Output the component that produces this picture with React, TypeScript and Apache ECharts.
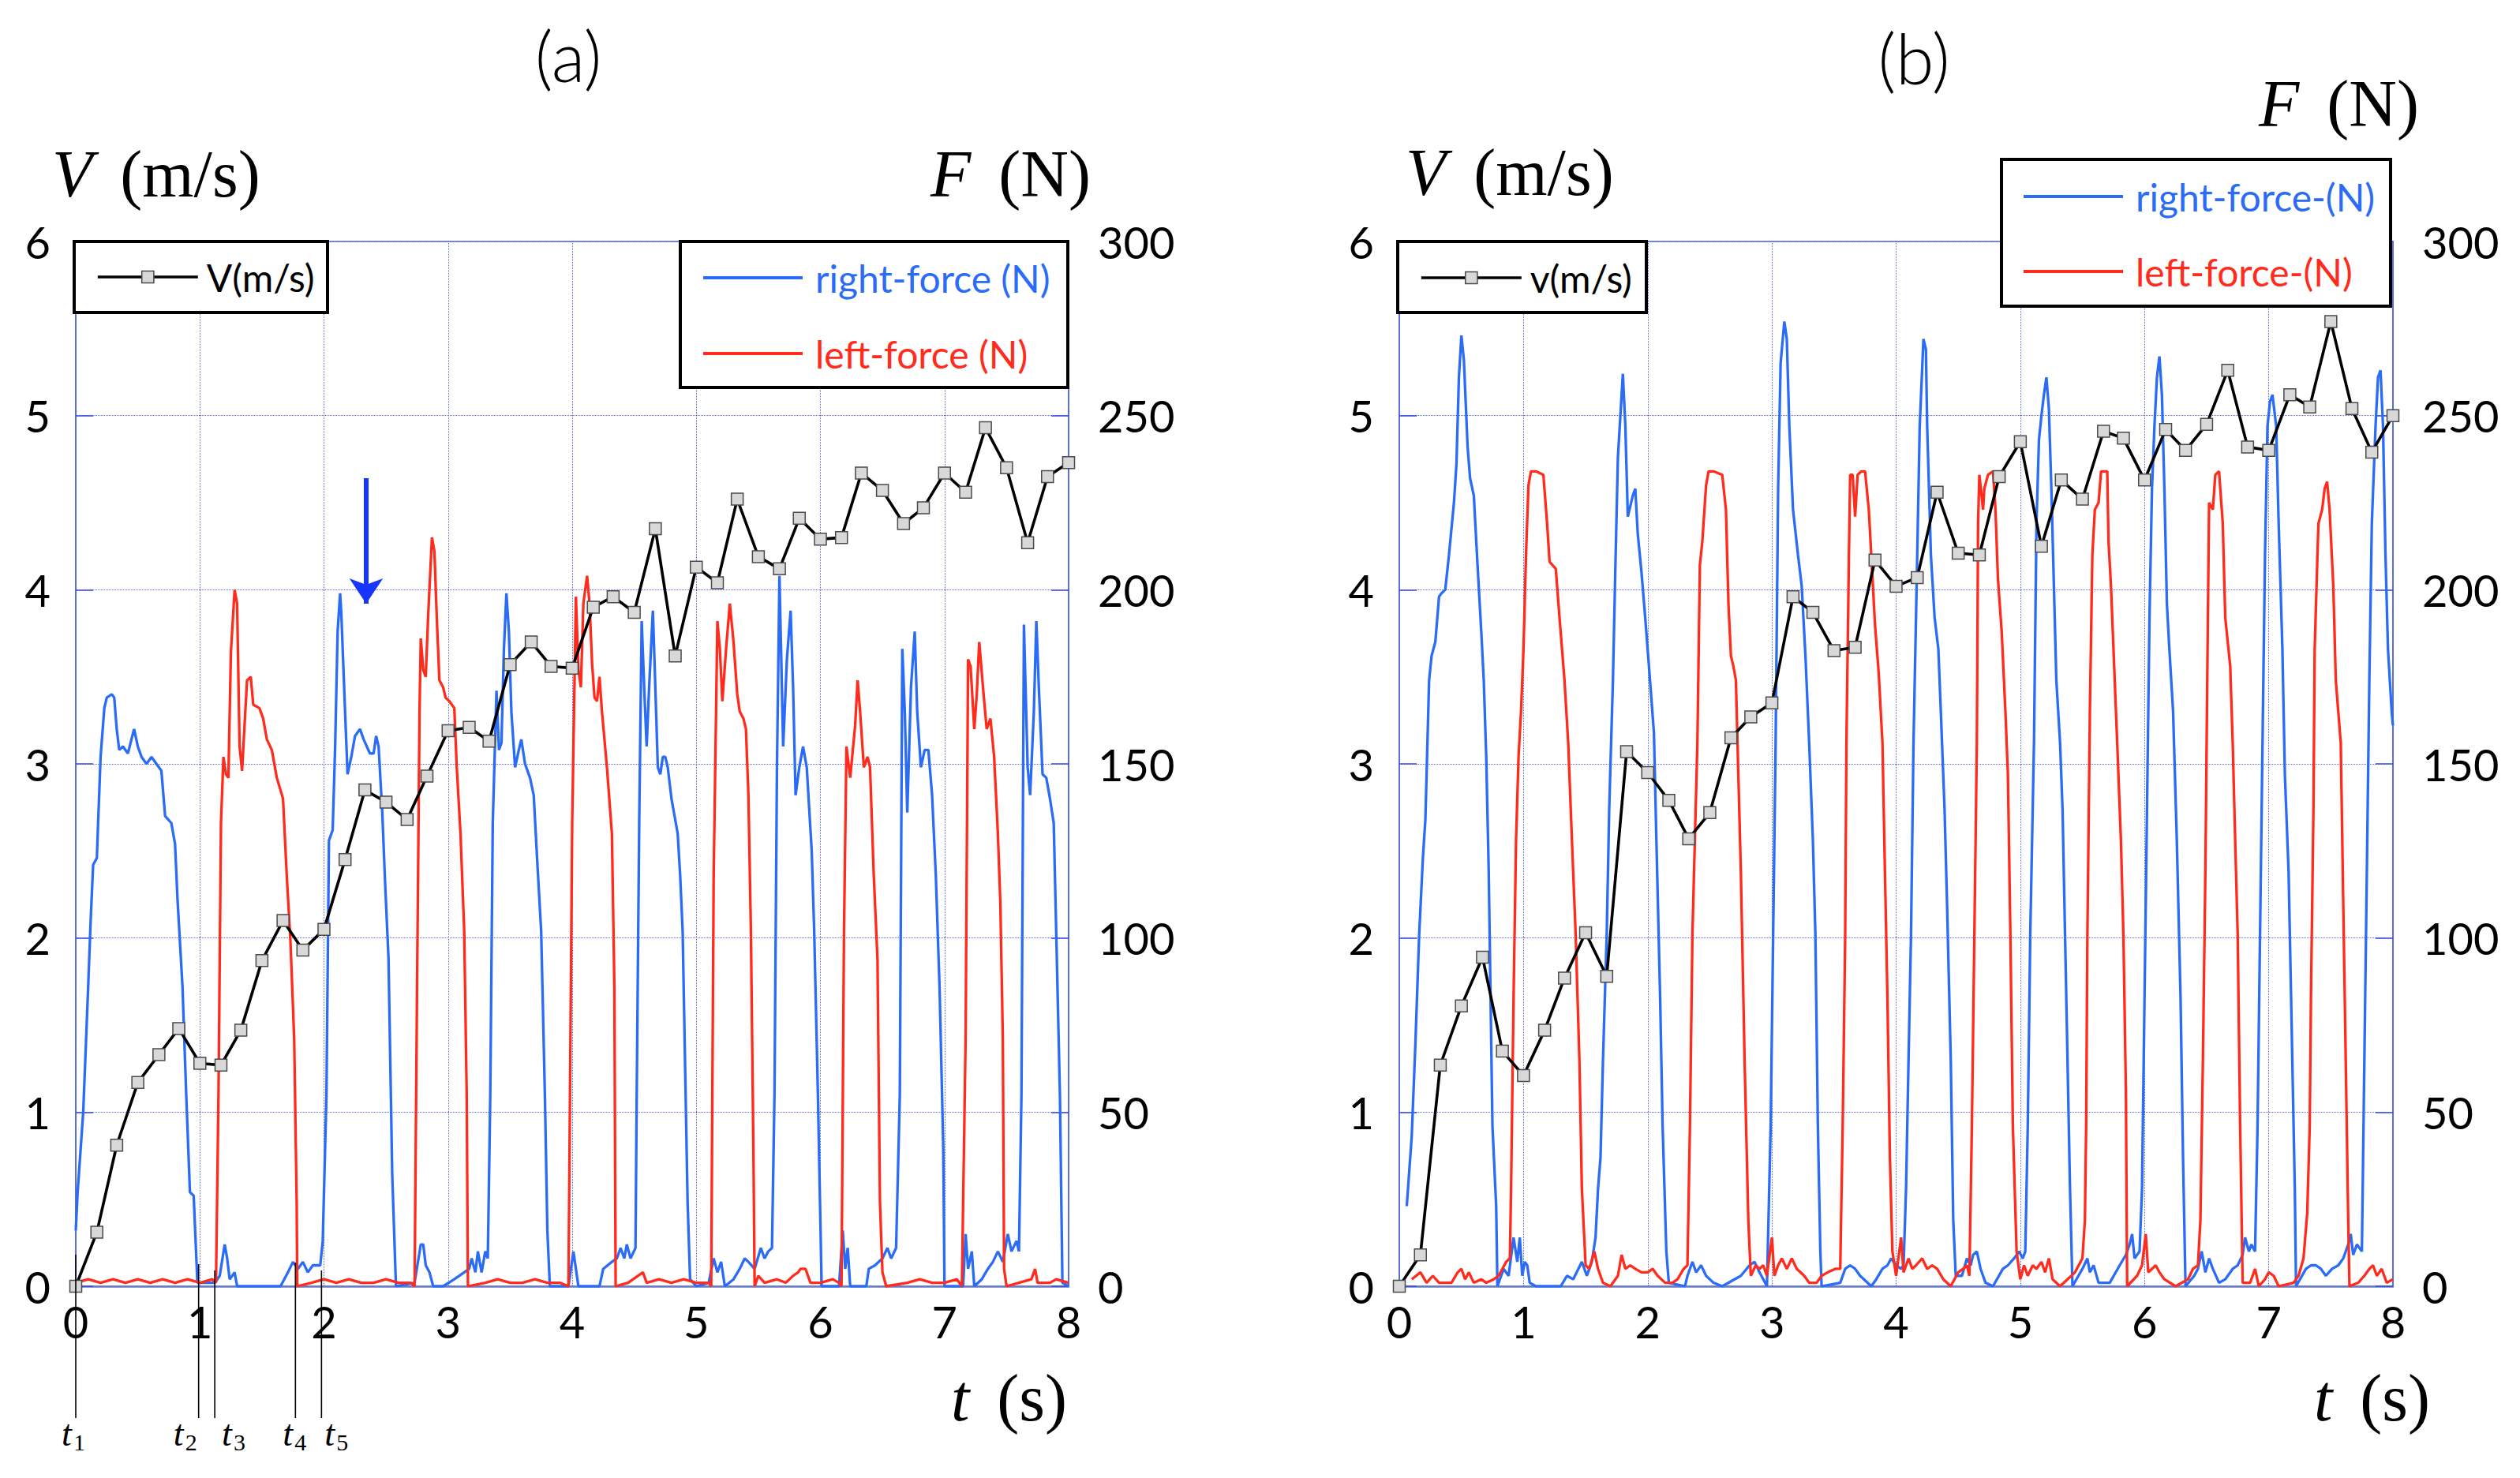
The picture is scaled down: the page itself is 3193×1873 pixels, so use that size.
import React, { useEffect, useRef } from "react";
import * as echarts from "echarts";

// ---------- data ----------
const vTimes = [0, 0.17, 0.33, 0.5, 0.67, 0.83, 1, 1.17, 1.33, 1.5, 1.67, 1.83, 2, 2.17, 2.33, 2.5, 2.67, 2.83, 3, 3.17, 3.33, 3.5, 3.67, 3.83, 4, 4.17, 4.33, 4.5, 4.67, 4.83, 5, 5.17, 5.33, 5.5, 5.67, 5.83, 6, 6.17, 6.33, 6.5, 6.67, 6.83, 7, 7.17, 7.33, 7.5, 7.67, 7.83, 8];

const velocityA = [0, 0.31, 0.81, 1.17, 1.33, 1.48, 1.28, 1.27, 1.47, 1.87, 2.1, 1.93, 2.05, 2.45, 2.85, 2.78, 2.68, 2.93, 3.19, 3.21, 3.13, 3.57, 3.7, 3.56, 3.55, 3.9, 3.96, 3.87, 4.35, 3.62, 4.13, 4.04, 4.52, 4.19, 4.12, 4.41, 4.29, 4.3, 4.67, 4.57, 4.38, 4.47, 4.67, 4.56, 4.93, 4.7, 4.27, 4.65, 4.73];

const velocityB = [0, 0.18, 1.27, 1.61, 1.89, 1.35, 1.21, 1.47, 1.77, 2.03, 1.78, 3.07, 2.95, 2.79, 2.57, 2.72, 3.15, 3.27, 3.35, 3.96, 3.87, 3.65, 3.67, 4.17, 4.02, 4.07, 4.56, 4.21, 4.2, 4.65, 4.85, 4.25, 4.63, 4.52, 4.91, 4.87, 4.63, 4.92, 4.8, 4.95, 5.26, 4.82, 4.8, 5.12, 5.05, 5.54, 5.04, 4.79, 5.0];

const rightForceA: [number, number][] = [[0,16],[0.015,27],[0.06,50],[0.1,86],[0.12,105],[0.14,121],[0.17,123],[0.18,133],[0.2,152],[0.23,166],[0.25,169],[0.29,170],[0.31,169],[0.33,160],[0.35,154],[0.38,155],[0.42,153],[0.47,160],[0.5,155],[0.53,152],[0.57,150],[0.61,152],[0.65,150],[0.69,148],[0.72,135],[0.77,133],[0.8,127],[0.82,111],[0.86,86],[0.89,55],[0.92,27],[0.95,26],[0.98,1],[1.05,1],[1.12,1],[1.16,3],[1.2,12],[1.22,8],[1.24,2],[1.28,4],[1.3,0],[1.65,0],[1.71,4],[1.75,7],[1.79,5],[1.83,7],[1.87,4],[1.91,6],[1.97,6],[1.99,13],[2.02,55],[2.04,128],[2.07,131],[2.09,155],[2.11,188],[2.13,199],[2.14,193],[2.17,165],[2.19,147],[2.22,152],[2.25,158],[2.29,160],[2.32,157],[2.37,153],[2.4,153],[2.42,158],[2.44,155],[2.47,136],[2.49,118],[2.52,94],[2.55,32],[2.58,0],[2.73,1],[2.78,12],[2.8,12],[2.82,6],[2.85,4],[2.88,0],[2.96,0],[3.05,2],[3.13,4],[3.17,5],[3.19,8],[3.22,4],[3.24,10],[3.27,4],[3.3,10],[3.32,8],[3.34,55],[3.36,133],[3.39,171],[3.41,154],[3.43,156],[3.45,183],[3.47,199],[3.49,188],[3.51,165],[3.54,149],[3.57,154],[3.59,157],[3.62,150],[3.66,146],[3.69,141],[3.72,121],[3.75,102],[3.78,55],[3.8,16],[3.82,0],[3.97,0],[4.01,10],[4.03,5],[4.05,0],[4.22,0],[4.25,5],[4.32,7],[4.36,8],[4.39,11],[4.42,8],[4.44,12],[4.47,8],[4.51,11],[4.52,55],[4.54,133],[4.56,191],[4.58,172],[4.6,155],[4.62,172],[4.65,194],[4.67,172],[4.69,149],[4.71,147],[4.73,152],[4.75,152],[4.77,149],[4.8,140],[4.85,130],[4.87,118],[4.89,102],[4.91,63],[4.93,24],[4.95,2],[5.0,0],[5.1,1],[5.14,8],[5.17,4],[5.2,7],[5.23,0],[5.3,2],[5.35,5],[5.39,8],[5.42,7],[5.47,5],[5.52,11],[5.55,8],[5.58,10],[5.61,11],[5.63,55],[5.65,149],[5.67,204],[5.7,155],[5.73,180],[5.76,194],[5.78,172],[5.8,141],[5.83,149],[5.86,155],[5.89,149],[5.93,125],[5.95,102],[5.98,55],[6.01,0],[6.15,0],[6.18,16],[6.2,5],[6.22,11],[6.24,0],[6.37,0],[6.39,5],[6.44,6],[6.5,8],[6.54,11],[6.57,8],[6.61,11],[6.64,55],[6.66,183],[6.68,165],[6.7,136],[6.73,172],[6.76,188],[6.78,165],[6.81,149],[6.84,154],[6.87,154],[6.9,141],[6.93,118],[6.96,86],[6.99,40],[7.0,0],[7.15,0],[7.17,15],[7.19,5],[7.22,10],[7.24,0],[7.3,2],[7.35,5],[7.39,7],[7.43,10],[7.47,7],[7.51,15],[7.54,10],[7.58,13],[7.6,10],[7.62,55],[7.64,190],[7.67,149],[7.69,141],[7.72,165],[7.74,191],[7.76,172],[7.79,147],[7.82,146],[7.85,140],[7.88,133],[7.9,102],[7.93,55],[7.95,1],[8.0,0]];

const leftForceA: [number, number][] = [[0,1],[0.1,2],[0.2,1],[0.3,2],[0.4,1],[0.5,2],[0.6,1],[0.7,2],[0.8,1],[0.9,2],[1.0,1],[1.1,2],[1.13,1],[1.15,55],[1.17,133],[1.19,152],[1.21,147],[1.23,146],[1.25,182],[1.28,200],[1.3,196],[1.32,155],[1.34,148],[1.36,161],[1.38,174],[1.41,175],[1.43,167],[1.48,166],[1.51,163],[1.54,157],[1.58,154],[1.62,146],[1.67,140],[1.7,118],[1.73,99],[1.76,71],[1.78,24],[1.785,0],[1.9,1],[2.0,2],[2.1,1],[2.2,2],[2.3,1],[2.4,1],[2.5,2],[2.6,1],[2.7,1],[2.73,0],[2.75,86],[2.77,165],[2.78,186],[2.8,177],[2.82,175],[2.84,193],[2.87,215],[2.89,211],[2.91,191],[2.93,174],[2.96,172],[2.98,169],[3.01,168],[3.05,166],[3.07,149],[3.1,130],[3.13,102],[3.15,55],[3.16,0],[3.3,1],[3.4,2],[3.5,1],[3.6,1],[3.7,2],[3.8,1],[3.9,1],[3.97,0],[4.0,133],[4.03,198],[4.05,177],[4.07,172],[4.09,196],[4.12,204],[4.14,196],[4.16,179],[4.18,169],[4.2,168],[4.22,175],[4.24,165],[4.28,149],[4.32,130],[4.34,86],[4.35,0],[4.45,1],[4.57,4],[4.6,1],[4.7,2],[4.8,1],[4.9,2],[5.0,1],[5.1,1],[5.12,0],[5.14,118],[5.17,191],[5.19,183],[5.21,168],[5.24,183],[5.27,196],[5.3,185],[5.33,170],[5.35,165],[5.38,163],[5.4,160],[5.42,141],[5.44,102],[5.46,40],[5.47,0],[5.5,3],[5.55,1],[5.65,2],[5.72,1],[5.78,3],[5.82,4],[5.84,5],[5.88,5],[5.92,1],[6.0,1],[6.1,2],[6.15,1],[6.17,0],[6.19,102],[6.21,155],[6.24,146],[6.28,161],[6.3,174],[6.32,165],[6.35,149],[6.38,152],[6.4,149],[6.43,118],[6.46,94],[6.48,24],[6.5,4],[6.53,0],[6.7,1],[6.8,2],[6.9,1],[7.0,1],[7.1,2],[7.14,0],[7.17,71],[7.19,180],[7.21,178],[7.24,160],[7.26,170],[7.28,185],[7.31,172],[7.34,160],[7.37,163],[7.4,152],[7.43,130],[7.45,110],[7.47,71],[7.48,5],[7.5,0],[7.6,1],[7.7,2],[7.73,5],[7.75,1],[7.85,1],[7.9,2],[8.0,1]];

const rightForceB: [number, number][] = [[0.06,23],[0.1,43],[0.13,70],[0.16,101],[0.19,123],[0.21,134],[0.24,174],[0.26,181],[0.29,185],[0.32,198],[0.34,199],[0.37,200],[0.4,210],[0.44,225],[0.46,236],[0.48,261],[0.5,273],[0.52,266],[0.55,241],[0.57,232],[0.6,227],[0.63,207],[0.66,188],[0.68,174],[0.7,152],[0.72,119],[0.75,46],[0.78,23],[0.79,0],[0.84,5],[0.88,3],[0.92,14],[0.95,7],[0.97,14],[0.99,3],[1.01,7],[1.03,6],[1.05,1],[1.1,0],[1.3,0],[1.35,3],[1.4,2],[1.47,7],[1.51,3],[1.55,7],[1.58,14],[1.6,28],[1.62,37],[1.64,65],[1.67,101],[1.69,137],[1.72,174],[1.74,207],[1.76,238],[1.79,256],[1.8,262],[1.82,247],[1.84,221],[1.88,227],[1.9,229],[1.92,216],[1.95,205],[1.98,192],[2.01,178],[2.05,159],[2.07,128],[2.1,83],[2.12,46],[2.15,10],[2.17,1],[2.3,0],[2.32,3],[2.36,7],[2.39,4],[2.43,6],[2.47,3],[2.53,1],[2.6,0],[2.75,3],[2.82,6],[2.86,7],[2.9,4],[2.96,0],[2.99,46],[3.01,101],[3.03,156],[3.05,229],[3.07,265],[3.1,277],[3.12,272],[3.14,247],[3.17,223],[3.21,210],[3.24,201],[3.27,181],[3.3,156],[3.33,128],[3.35,101],[3.37,46],[3.39,10],[3.4,0],[3.55,1],[3.59,5],[3.63,6],[3.67,5],[3.71,3],[3.8,0],[3.84,2],[3.89,5],[3.93,6],[3.96,8],[4.0,6],[4.04,5],[4.06,6],[4.08,28],[4.1,65],[4.12,101],[4.14,156],[4.17,210],[4.19,247],[4.22,272],[4.24,269],[4.25,247],[4.28,210],[4.31,192],[4.34,183],[4.36,165],[4.39,137],[4.41,110],[4.44,65],[4.46,19],[4.48,3],[4.53,3],[4.57,8],[4.6,6],[4.62,9],[4.65,10],[4.68,5],[4.72,1],[4.78,0],[4.86,5],[4.9,6],[4.95,8],[4.99,10],[5.02,8],[5.04,10],[5.06,46],[5.08,101],[5.11,156],[5.13,219],[5.15,243],[5.17,250],[5.19,256],[5.21,261],[5.23,252],[5.25,229],[5.29,174],[5.32,156],[5.34,137],[5.36,101],[5.38,65],[5.4,28],[5.42,0],[5.5,5],[5.54,8],[5.56,4],[5.59,6],[5.63,1],[5.72,1],[5.8,6],[5.85,9],[5.88,12],[5.9,15],[5.92,8],[5.96,10],[5.98,28],[6.0,83],[6.02,137],[6.04,192],[6.06,229],[6.08,247],[6.1,261],[6.12,267],[6.14,256],[6.16,229],[6.18,196],[6.2,183],[6.23,165],[6.26,128],[6.29,83],[6.31,37],[6.33,0],[6.4,3],[6.43,5],[6.46,10],[6.49,4],[6.52,8],[6.55,5],[6.6,1],[6.65,2],[6.71,5],[6.75,6],[6.79,9],[6.81,14],[6.84,10],[6.86,12],[6.89,10],[6.91,46],[6.93,101],[6.95,156],[6.97,210],[6.99,247],[7.01,254],[7.03,256],[7.06,247],[7.08,219],[7.11,183],[7.13,147],[7.16,119],[7.18,83],[7.21,28],[7.22,0],[7.3,5],[7.34,6],[7.38,6],[7.42,5],[7.46,3],[7.51,5],[7.56,6],[7.6,8],[7.64,12],[7.66,15],[7.68,9],[7.71,12],[7.75,10],[7.77,65],[7.79,119],[7.81,174],[7.83,219],[7.86,247],[7.88,261],[7.9,263],[7.92,247],[7.94,210],[7.96,183],[7.99,165],[8.0,161]];

const leftForceB: [number, number][] = [[0.1,2],[0.17,4],[0.22,1],[0.27,3],[0.32,1],[0.42,1],[0.47,4],[0.5,5],[0.53,2],[0.56,4],[0.6,1],[0.66,2],[0.7,1],[0.76,2],[0.8,3],[0.83,5],[0.86,7],[0.89,8],[0.9,28],[0.92,83],[0.94,128],[0.96,152],[0.98,165],[1.0,183],[1.02,210],[1.04,230],[1.06,234],[1.1,234],[1.16,233],[1.19,219],[1.21,208],[1.26,206],[1.29,192],[1.33,174],[1.36,156],[1.39,128],[1.42,101],[1.45,65],[1.47,28],[1.5,6],[1.53,5],[1.57,10],[1.6,5],[1.64,1],[1.7,0],[1.76,3],[1.79,9],[1.82,5],[1.86,6],[1.9,5],[1.95,4],[2.0,4],[2.04,5],[2.08,3],[2.14,1],[2.2,1],[2.24,2],[2.29,5],[2.32,6],[2.34,46],[2.36,101],[2.4,156],[2.42,207],[2.44,214],[2.47,230],[2.49,234],[2.53,234],[2.6,233],[2.63,223],[2.65,196],[2.67,181],[2.69,178],[2.71,174],[2.75,119],[2.78,65],[2.81,19],[2.83,3],[2.87,6],[2.9,5],[2.93,6],[2.96,3],[3.0,14],[3.02,3],[3.05,6],[3.08,8],[3.12,5],[3.16,8],[3.2,5],[3.26,3],[3.3,1],[3.36,1],[3.4,3],[3.45,4],[3.51,5],[3.55,5],[3.57,46],[3.59,101],[3.6,156],[3.62,210],[3.63,233],[3.65,233],[3.67,221],[3.69,233],[3.72,234],[3.75,234],[3.78,223],[3.8,210],[3.83,190],[3.86,176],[3.89,156],[3.91,119],[3.93,83],[3.95,37],[3.97,10],[4.0,3],[4.04,14],[4.06,4],[4.1,8],[4.13,5],[4.16,6],[4.21,8],[4.25,5],[4.29,6],[4.33,5],[4.38,2],[4.44,0],[4.5,4],[4.54,5],[4.57,6],[4.59,3],[4.61,46],[4.63,101],[4.65,156],[4.66,219],[4.67,233],[4.7,223],[4.71,229],[4.74,233],[4.78,234],[4.8,223],[4.82,203],[4.85,188],[4.88,165],[4.9,147],[4.92,101],[4.94,46],[4.97,10],[5.0,2],[5.03,6],[5.06,3],[5.1,6],[5.13,5],[5.17,7],[5.2,4],[5.23,8],[5.26,2],[5.32,0],[5.38,2],[5.44,4],[5.47,6],[5.5,8],[5.52,19],[5.53,46],[5.54,101],[5.56,165],[5.58,210],[5.6,223],[5.63,225],[5.65,234],[5.7,234],[5.71,214],[5.73,201],[5.75,183],[5.78,156],[5.81,128],[5.83,101],[5.85,56],[5.86,0],[5.94,3],[5.98,6],[6.01,15],[6.03,4],[6.06,5],[6.09,6],[6.12,4],[6.16,2],[6.25,0],[6.35,2],[6.39,5],[6.43,6],[6.45,19],[6.47,65],[6.49,119],[6.51,192],[6.52,225],[6.55,223],[6.57,233],[6.6,234],[6.63,219],[6.65,192],[6.69,178],[6.71,156],[6.73,128],[6.75,101],[6.77,46],[6.79,1],[6.85,1],[6.89,5],[6.92,0],[6.97,2],[7.0,4],[7.04,3],[7.08,0],[7.2,1],[7.24,3],[7.28,8],[7.31,21],[7.33,46],[7.34,83],[7.36,137],[7.37,183],[7.4,219],[7.43,223],[7.45,229],[7.47,231],[7.49,223],[7.52,201],[7.54,174],[7.58,156],[7.6,110],[7.62,65],[7.64,19],[7.65,0],[7.72,1],[7.77,3],[7.81,5],[7.84,6],[7.87,3],[7.91,5],[7.95,1],[8.0,2]];

// time markers t1..t5 under panel (a)
const tMarks = [0, 0.99, 1.12, 1.77, 1.98];
const tMarkNames = ["1", "2", "3", "4", "5"];
// blue arrow in panel (a): time, start force, end force
const arrowA = { t: 2.34, from: 232, to: 196 };

// ---------- styles ----------
const BLUE = "#2b6cf6";
const RED = "#ff2b1c";
const ARROW = "#1636ff";
const GRIDC = "#5565e0";
const SANS = "Lato, 'Open Sans', sans-serif";
const SERIF = "'Liberation Serif', 'DejaVu Serif', serif";

const gridsPx = [
  { left: 96, top: 306, width: 1258, height: 1324 },
  { left: 1773, top: 306, width: 1259, height: 1324 },
];
const markRiseAbove = [40, 28, 20, 30, 20];
const markLabelOffset = [-18, -32, 9, -16, 4];

function xAxisFor(gridIndex: number) {
  return {
    type: "value", gridIndex, min: 0, max: 8, interval: 1,
    axisLine: { show: true, lineStyle: { color: "#6a7cc8", width: 2.5 } },
    axisTick: { show: false },
    axisLabel: { color: "#000", fontFamily: SANS, fontSize: 56, lineHeight: 56, margin: 16 },
    splitLine: { show: true, lineStyle: { color: GRIDC, width: 1, type: "dotted" } },
  };
}
function yAxisFor(gridIndex: number, side: "left" | "right", max: number, interval: number, split: boolean) {
  return {
    type: "value", gridIndex, position: side, min: 0, max, interval,
    axisLine: { show: true, lineStyle: { color: GRIDC, width: 1.5 } },
    axisTick: { show: true, inside: true, length: 22, lineStyle: { color: "#3446e0", width: 1.5 } },
    axisLabel: { color: "#000", fontFamily: SANS, fontSize: 56, margin: side === "left" ? 32 : 37, padding: [0, 0, 16, 0] },
    splitLine: { show: split, lineStyle: { color: GRIDC, width: 1, type: "dotted" } },
  };
}

function forceSeries(name: string, data: [number, number][], color: string, axisBase: number, extra: any = {}) {
  return {
    name, type: "line", xAxisIndex: axisBase / 2, yAxisIndex: axisBase + 1, data,
    symbol: "none", lineStyle: { color, width: 3.3 }, itemStyle: { color }, z: 2, silent: true, ...extra,
  };
}
function velocitySeries(name: string, values: number[], gridIndex: number) {
  return {
    name, type: "line", xAxisIndex: gridIndex, yAxisIndex: gridIndex * 2,
    data: vTimes.map((t, i) => [t, values[i]]),
    symbol: "rect", symbolSize: 15, showAllSymbol: true,
    lineStyle: { color: "#000", width: 3.6 },
    itemStyle: { color: "#d8d8d8", borderColor: "#4a4a4a", borderWidth: 1.5 },
    z: 4, silent: true,
  };
}

function vLegend(name: string, left: number, top: number) {
  return {
    data: [name], left, top, orient: "vertical", padding: 0, selectedMode: false,
    itemWidth: 127, itemHeight: 19, z: 6,
    lineStyle: { width: 3.6 }, itemStyle: { borderWidth: 1.5 },
    textStyle: { fontFamily: SANS, fontSize: 48, lineHeight: 50, color: "#000", padding: [0, 0, 0, 6] },
  };
}
function fLegend(names: string[], left: number, top: number, gap: number) {
  return {
    data: [
      { name: names[0], textStyle: { color: BLUE } },
      { name: names[1], textStyle: { color: RED } },
    ],
    left, top, orient: "vertical", padding: 0, selectedMode: false, icon: "rect",
    itemWidth: 126, itemHeight: 4, itemGap: gap, z: 6,
    textStyle: { fontFamily: SANS, fontSize: 48, lineHeight: 50, padding: [0, 0, 0, 11] },
  };
}

function boxEl(x: number, y: number, w: number, h: number) {
  return { type: "rect", z: 5, silent: true, shape: { x, y, width: w, height: h }, style: { fill: "#fff", stroke: "#000", lineWidth: 4 } };
}
function mathLabel(x: number, y: number, sym: string, unit: string, size = 84) {
  return {
    type: "text", x, y, z: 6, silent: true,
    style: {
      text: `{i|${sym}}{r|(${unit})}`, verticalAlign: "middle", fill: "#000",
      rich: {
        i: { fontFamily: SERIF, fontStyle: "italic", fontSize: size, padding: [0, Math.round(size * 0.42), 0, 0] },
        r: { fontFamily: SERIF, fontSize: size },
      },
    },
  };
}
function panelTitle(x: number, y: number, text: string) {
  return { type: "text", x, y, z: 6, silent: true, style: { text, align: "center", verticalAlign: "middle", fontFamily: SANS, fontWeight: 300, fontSize: 88, fill: "#000" } };
}

function staticGraphics(): any[] {
  return [
    boxEl(94, 306, 321, 90),
    boxEl(862, 306, 491, 185),
    boxEl(1771, 306, 315, 90),
    boxEl(2536, 202, 493, 186),
    panelTitle(720, 70, "(a)"),
    panelTitle(2425, 73, "(b)"),
    mathLabel(66, 220, "V", "m/s"),
    mathLabel(1179, 220, "F", "N"),
    mathLabel(1781, 218, "V", "m/s"),
    mathLabel(2862, 131, "F", "N"),
    mathLabel(1205, 1771, "t", "s"),
    mathLabel(2932, 1771, "t", "s"),
  ];
}

function buildOption(): any {
  return {
    animation: false,
    backgroundColor: "#fff",
    grid: gridsPx.map((g) => ({ ...g, show: true, borderColor: GRIDC, borderWidth: 1.5, backgroundColor: "transparent" })),
    xAxis: [xAxisFor(0), xAxisFor(1)],
    yAxis: [
      yAxisFor(0, "left", 6, 1, true),
      yAxisFor(0, "right", 300, 50, false),
      yAxisFor(1, "left", 6, 1, true),
      yAxisFor(1, "right", 300, 50, false),
    ],
    legend: [
      vLegend("V(m/s)", 122, 326),
      fLegend(["right-force (N)", "left-force (N)"], 891, 327, 46),
      vLegend("v(m/s)", 1799, 327),
      fLegend(["right-force-(N)", "left-force-(N)"], 2564, 224, 45),
    ],
    series: [
      forceSeries("right-force (N)", rightForceA, BLUE, 0),
      forceSeries("left-force (N)", leftForceA, RED, 0, {
        markLine: {
          silent: true, symbol: ["none", "arrow"], symbolSize: 32, label: { show: false },
          lineStyle: { color: ARROW, width: 6, type: "solid" }, itemStyle: { color: ARROW }, emphasis: { disabled: true },
          data: [[{ coord: [arrowA.t, arrowA.from] }, { coord: [arrowA.t, arrowA.to] }]],
        },
      }),
      velocitySeries("V(m/s)", velocityA, 0),
      forceSeries("right-force-(N)", rightForceB, BLUE, 2),
      forceSeries("left-force-(N)", leftForceB, RED, 2),
      velocitySeries("v(m/s)", velocityB, 1),
    ],
    graphic: staticGraphics(),
  };
}

export default function App() {
  const ref = useRef<HTMLDivElement>(null);
  useEffect(() => {
    if (!ref.current) return;
    const chart = echarts.init(ref.current, undefined, { renderer: "svg" });
    chart.setOption(buildOption());
    const extra: any[] = [];
    tMarks.forEach((t, i) => {
      const p = chart.convertToPixel({ gridIndex: 0 }, [t, 0]) as number[];
      const px = p[0];
      const py = p[1];
      extra.push({ type: "line", z: 6, silent: true, shape: { x1: px, y1: py - markRiseAbove[i], x2: px, y2: py + 167 }, style: { stroke: "#000", lineWidth: 1.6 } });
      extra.push({ type: "text", z: 6, silent: true, x: px + markLabelOffset[i], y: py + 186, style: { text: "t", fontFamily: SERIF, fontStyle: "italic", fontSize: 46, fill: "#000", verticalAlign: "middle" } });
      extra.push({ type: "text", z: 6, silent: true, x: px + markLabelOffset[i] + 15, y: py + 197, style: { text: tMarkNames[i], fontFamily: SERIF, fontSize: 30, fill: "#000", verticalAlign: "middle" } });
    });
    chart.setOption({ graphic: [...staticGraphics(), ...extra] });
    return () => chart.dispose();
  }, []);
  return <div ref={ref} style={{ position: "fixed", left: 0, top: 0, width: "3193px", height: "1873px", background: "#fff" }} />;
}
